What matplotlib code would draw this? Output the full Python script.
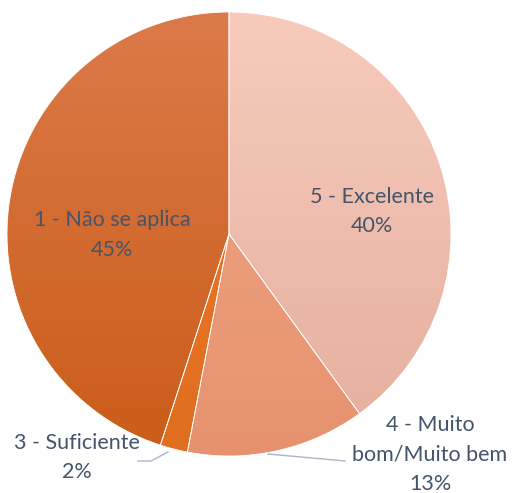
import matplotlib
matplotlib.use("Agg")
import matplotlib.pyplot as plt
import numpy as np
from matplotlib.colors import LinearSegmentedColormap

categories = ["5 - Excelente", "4 - Muito\nbom/Muito bem", "3 - Suficiente", "1 - Não se aplica"]
values = [40, 13, 2, 45]
pct_labels = ["40%", "13%", "2%", "45%"]
top_colors = ["#F8CBBC", "#F3A888", "#EE7A2A", "#DB7A4A"]
bottom_colors = ["#E4AE9D", "#E6926F", "#E06E1E", "#CB5C18"]

W, H = 515, 493
fig = plt.figure(figsize=(W / 100, H / 100), dpi=100)
ax = fig.add_axes([0, 0, 1, 1])
ax.set_xlim(0, W)
ax.set_ylim(0, H)
ax.set_aspect("equal")
ax.axis("off")

cx, cy, r = 229, H - 234, 222
wedges, _ = ax.pie(values, center=(cx, cy), radius=r, startangle=90,
                   counterclock=False, colors=top_colors,
                   wedgeprops=dict(edgecolor="white", linewidth=0.6))

grad = np.linspace(0, 1, 256).reshape(-1, 1)
for w, c0, c1 in zip(wedges, top_colors, bottom_colors):
    cmap = LinearSegmentedColormap.from_list("g", [c1, c0])
    im = ax.imshow(grad, cmap=cmap, extent=(cx - r, cx + r, cy - r, cy + r),
                   origin="lower", aspect="auto", zorder=w.get_zorder() + 0.1)
    im.set_clip_path(w)
    w.set_facecolor("none")
    w.set_zorder(w.get_zorder() + 0.2)

ax.set_xlim(0, W)
ax.set_ylim(0, H)

txt_color = "#44546A"
fs = 15.5
fam = ["Lato", "DejaVu Sans"]
label_pos = [(372, 197), (430, 425), (77, 443), (112, 220)]
for (x, y), cat, p in zip(label_pos, categories, pct_labels):
    lines = cat.split("\n") + [p]
    for i, line in enumerate(lines):
        ax.text(x, H - (y + i * 29.5), line, ha="center", va="center",
                fontsize=fs, color=txt_color, family=fam, zorder=10)

lc = "#A9B6C6"
ax.plot([168, 151, 138], [H - 452, H - 461, H - 461], color=lc, lw=1.0, zorder=9)
ax.plot([268, 345], [H - 454, H - 461], color=lc, lw=1.0, zorder=9)

fig.savefig("out.png", dpi=100)
